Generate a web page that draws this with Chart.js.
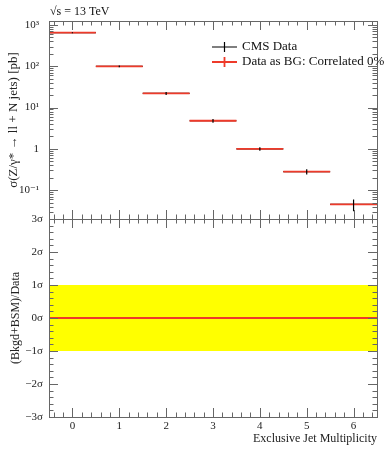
<!DOCTYPE html>
<html>
<head>
<meta charset="utf-8">
<script src="https://cdn.jsdelivr.net/npm/chart.js@4/dist/chart.umd.min.js"></script>
<style>
  html, body { margin: 0; padding: 0; background: #fff; }
  #wrap { position: relative; width: 389px; height: 450px; }
  #top { position: absolute; left: 0; top: 0; }
  #bot { position: absolute; left: 0; top: 205px; }
</style>
</head>
<body>
<div id="wrap">
  <canvas id="bot" width="389" height="245"></canvas>
  <canvas id="top" width="389" height="219"></canvas>
</div>
<script>
(function () {
    'use strict';

    // ── Data ──────────────────────────────────────────────────────
    const JETS = [0, 1, 2, 3, 4, 5, 6];
    const XSEC = [650, 100, 22, 4.8, 1.0, 0.28, 0.045];      // CMS data [pb]
    const XSEC_ERR = [20, 5, 1.8, 0.5, 0.1, 0.04, 0.014];
    const BG = [650, 100, 22, 4.8, 1.0, 0.28, 0.045];        // data as BG
    const RATIO = [0, 0, 0, 0, 0, 0, 0];                     // in sigma
    const BAND_HI = [1, 1, 1, 1, 1, 1, 1];
    const BAND_LO = [-1, -1, -1, -1, -1, -1, -1];

    const X_TICKS = [0, 1, 2, 3, 4, 5, 6];
    const Y_TICKS = [0.1, 1, 10, 100, 1000];
    const Y_LABELS = ['10\u207B\u00B9', '1', '10\u00B9', '10\u00B2', '10\u00B3'];
    const R_TICKS = [-3, -2, -1, 0, 1, 2, 3];
    const R_LABELS = ['\u22123\u03C3', '\u22122\u03C3', '\u22121\u03C3', '0\u03C3', '1\u03C3', '2\u03C3', '3\u03C3'];

    const FONT = '"Liberation Serif", "DejaVu Serif", serif';
    const RED = '#ee3a2a';
    const TICK_COLOR = '#666';

    // ── Helpers ───────────────────────────────────────────────────
    function steps(vals) {
        var out = [];
        vals.forEach(function (v, i) {
            out.push({ x: JETS[i] - 0.5, y: v }, { x: JETS[i] + 0.5, y: v }, { x: JETS[i] + 0.5, y: null });
        });
        return out;
    }
    function errBars(vals, errs) {
        var out = [];
        vals.forEach(function (v, i) {
            out.push({ x: JETS[i], y: v - errs[i] }, { x: JETS[i], y: v + errs[i] }, { x: JETS[i], y: null });
        });
        return out;
    }
    // fixed axis width, no extra label padding so both panels line up
    function fixWidth(s) {
        s.width = 49;
        s.paddingTop = 0; s.paddingBottom = 0;
    }

    // frame + inward ticks, Rivet style
    const frameTicks = {
        id: 'frameTicks',
        afterDatasetsDraw: function (chart) {
            var ctx = chart.ctx, a = chart.chartArea;
            var xs = chart.scales.x, ys = chart.scales.y;
            ctx.save();
            ctx.strokeStyle = TICK_COLOR;
            ctx.lineWidth = 1;
            ctx.beginPath();
            // x ticks every 0.2, major at integers
            for (var k = -2; k <= 32; k++) {
                var xv = k / 5;
                if (xv < xs.min || xv > xs.max) continue;
                var px = Math.round(xs.getPixelForValue(xv)) + 0.5;
                var len = (k % 5 === 0) ? 9 : 4.5;
                ctx.moveTo(px, a.bottom); ctx.lineTo(px, a.bottom - len);
                ctx.moveTo(px, a.top); ctx.lineTo(px, a.top + len);
            }
            // y ticks
            var yt = [];
            if (ys.type === 'logarithmic') {
                for (var d = -3; d <= 4; d++) {
                    for (var m = 1; m <= 9; m++) {
                        var v = m * Math.pow(10, d);
                        if (v >= ys.min && v <= ys.max) yt.push([v, m === 1]);
                    }
                }
            } else {
                for (var j = -15; j <= 15; j++) yt.push([j / 5, j % 5 === 0]);
            }
            yt.forEach(function (t) {
                var py = Math.round(ys.getPixelForValue(t[0])) + 0.5;
                var l = t[1] ? 9 : 4.5;
                ctx.moveTo(a.left, py); ctx.lineTo(a.left + l, py);
                ctx.moveTo(a.right, py); ctx.lineTo(a.right - l, py);
            });
            ctx.stroke();
            ctx.strokeRect(Math.round(a.left) + 0.5, Math.round(a.top) + 0.5,
                Math.round(a.right - a.left), Math.round(a.bottom - a.top));
            ctx.restore();
        }
    };

    // legend + energy label on the top panel
    const annotations = {
        id: 'annotations',
        afterDraw: function (chart) {
            var ctx = chart.ctx;
            ctx.save();
            ctx.fillStyle = '#111';
            ctx.textBaseline = 'middle';
            ctx.font = '12px ' + FONT;
            ctx.fillText('\u221As = 13 TeV', 50, 12);
            ctx.font = '13px ' + FONT;
            [['CMS Data', '#000', 47], ['Data as BG: Correlated 0%', RED, 62]].forEach(function (e) {
                ctx.strokeStyle = e[1];
                ctx.lineWidth = e[1] === RED ? 1.8 : 1.2;
                ctx.beginPath();
                ctx.moveTo(212, e[2]); ctx.lineTo(237, e[2]);
                ctx.moveTo(224.5, e[2] - 5); ctx.lineTo(224.5, e[2] + 5);
                ctx.stroke();
                ctx.fillStyle = '#111';
                ctx.fillText(e[0], 242, e[2]);
            });
            ctx.restore();
        }
    };

    Chart.defaults.font.family = FONT;
    Chart.defaults.color = '#222';

    // ── Top panel: cross section ──────────────────────────────────
    new Chart(document.getElementById('top'), {
        type: 'line',
        data: {
            datasets: [
                { data: steps(XSEC), borderColor: '#000', borderWidth: 1.2, pointRadius: 0, order: 3 },
                { data: steps(BG), borderColor: RED, borderWidth: 1.8, pointRadius: 0, order: 2 },
                { data: errBars(XSEC, XSEC_ERR), borderColor: '#000', borderWidth: 1.2, pointRadius: 0, order: 1 }
            ]
        },
        options: {
            responsive: false,
            animation: false,
            layout: { padding: { top: 21, right: 12, bottom: 0, left: 0 } },
            plugins: { legend: { display: false }, tooltip: { enabled: false } },
            scales: {
                x: { type: 'linear', min: -0.5, max: 6.5, display: false },
                y: {
                    type: 'logarithmic', min: 0.02, max: 1250,
                    afterFit: fixWidth,
                    afterBuildTicks: function (s) { s.ticks = Y_TICKS.map(function (v) { return { value: v, major: true }; }); },
                    grid: { display: false, drawTicks: false },
                    border: { display: false },
                    ticks: {
                        padding: 10, font: { size: 11 },
                        callback: function (v) { var i = Y_TICKS.indexOf(v); return i >= 0 ? Y_LABELS[i] : ''; }
                    },
                    title: {
                        display: true, text: '\u03C3(Z/\u03B3* \u2192 ll + N jets) [pb]',
                        font: { size: 13 }, padding: { top: 6, bottom: 0 }
                    }
                }
            }
        },
        plugins: [frameTicks, annotations]
    });

    // ── Bottom panel: significance ────────────────────────────────
    new Chart(document.getElementById('bot'), {
        type: 'line',
        data: {
            datasets: [
                { data: steps(BAND_HI), borderWidth: 0, pointRadius: 0, backgroundColor: '#ffff00', fill: { value: -1 }, spanGaps: true, order: 3 },
                { data: steps(BAND_LO), borderWidth: 0, pointRadius: 0, spanGaps: true, order: 3 },
                { data: steps(RATIO), borderColor: RED, borderWidth: 1.8, pointRadius: 0, spanGaps: true, order: 1 }
            ]
        },
        options: {
            responsive: false,
            animation: false,
            layout: { padding: { top: 14, right: 12, bottom: 0, left: 0 } },
            plugins: { legend: { display: false }, tooltip: { enabled: false } },
            scales: {
                x: {
                    type: 'linear', min: -0.5, max: 6.5,
                    afterFit: function (s) { s.height = 33; s.paddingLeft = 0; s.paddingRight = 0; },
                    afterBuildTicks: function (s) { s.ticks = X_TICKS.map(function (v) { return { value: v }; }); },
                    grid: { display: false, drawTicks: false },
                    border: { display: false },
                    ticks: { padding: 3, font: { size: 11 }, maxRotation: 0, autoSkip: false },
                    title: {
                        display: true, text: 'Exclusive Jet Multiplicity', align: 'end',
                        font: { size: 12 }, padding: { top: 0, bottom: 4 }
                    }
                },
                y: {
                    type: 'linear', min: -3, max: 3,
                    afterFit: fixWidth,
                    afterBuildTicks: function (s) { s.ticks = R_TICKS.map(function (v) { return { value: v }; }); },
                    grid: { display: false, drawTicks: false },
                    border: { display: false },
                    ticks: {
                        padding: 6, font: { size: 11 },
                        callback: function (v) { var i = R_TICKS.indexOf(v); return i >= 0 ? R_LABELS[i] : ''; }
                    },
                    title: {
                        display: true, text: '(Bkgd+BSM)/Data',
                        font: { size: 12 }, padding: { top: 9, bottom: 0 }
                    }
                }
            }
        },
        plugins: [frameTicks]
    });
})();
</script>
</body>
</html>
